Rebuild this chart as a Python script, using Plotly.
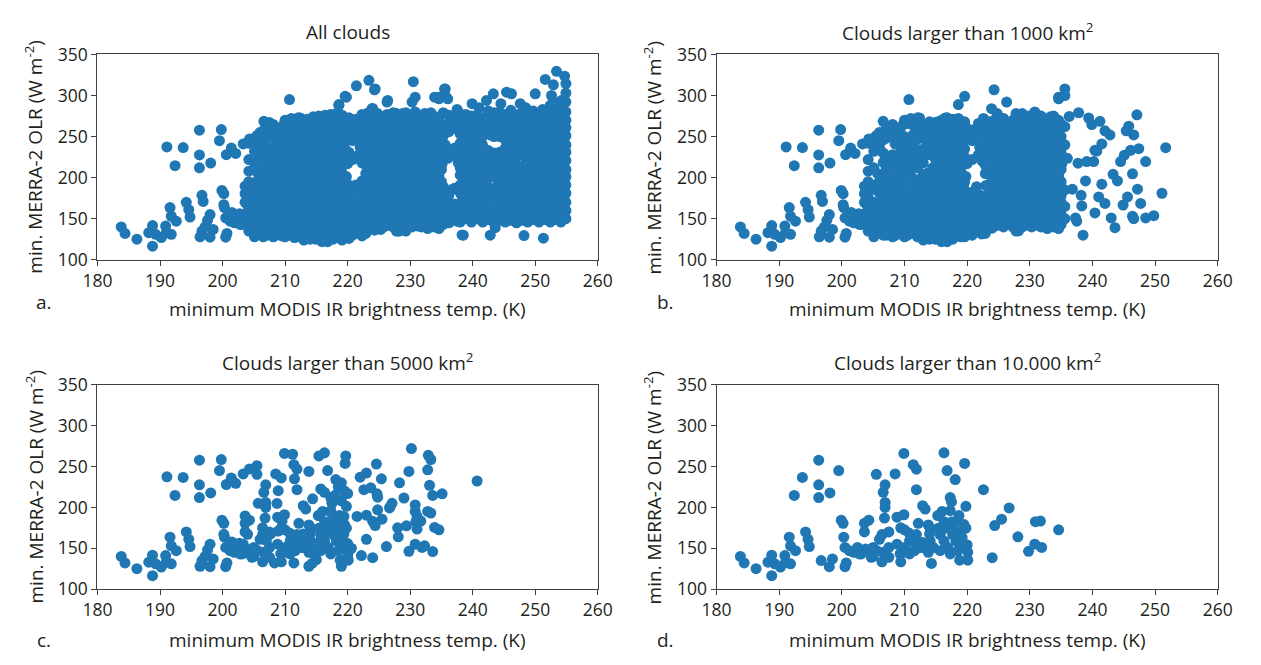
import plotly.graph_objects as go

FIG_W, FIG_H = 1261, 665
DOT = '#1f77b4'
TXT = '#231f20'
AX = '#404040'
FONT = 'Open Sans'
FS = 19
FS_TICK = 17.5

X_TICKS = [180, 190, 200, 210, 220, 230, 240, 250, 260]
Y_TICKS = [100, 150, 200, 250, 300, 350]
TITLES = ['All clouds',
          'Clouds larger than 1000 km<sup>2</sup>',
          'Clouds larger than 5000 km<sup>2</sup>',
          'Clouds larger than 10.000 km<sup>2</sup>']
LETTERS = ['a.', 'b.', 'c.', 'd.']
X_TITLE = 'minimum MODIS IR brightness temp. (K)'
Y_TITLE = 'min. MERRA-2 OLR (W m<sup>-2</sup>)'

# clouds larger than 10.000 km2 (panel d; also contained in c, b, a)
D_PTS = [
    (183.8, 140), (184.4, 132), (186.3, 125), (188.2, 133), (188.8, 141.6), (188.8, 116.5),
    (189.3, 131), (190.2, 127), (190.9, 141), (191, 133), (191.8, 131), (191.6, 163.6),
    (191.8, 153), (192.6, 147), (192.4, 214.6), (193.7, 236.6), (194.2, 170), (194.6, 161),
    (194.8, 152), (196.3, 257.8), (196.3, 227.6), (196.3, 212), (196.7, 135), (198.1, 217.7),
    (198, 127.5), (198.5, 137), (199.5, 245), (199.9, 184.4), (200.2, 180.5), (200.3, 163.6),
    (200.5, 151), (200.5, 127.5), (200.7, 132), (201.2, 147), (202.5, 151), (203.6, 180.5),
    (203.6, 170), (204.3, 184.4), (203.1, 143), (203.8, 149), (204.7, 139), (205, 151),
    (205.5, 240.5), (206, 161), (206.4, 166.7), (206.9, 227.6), (206.6, 218.5), (206.9, 206),
    (206.9, 200), (206.8, 187), (206.4, 133.4), (206.6, 145), (207.5, 170), (207.5, 151),
    (207.5, 139), (208.5, 241), (208.8, 155), (209.3, 143), (209.4, 133.4), (208.8, 188),
    (209.9, 191), (209.9, 266), (209.4, 175), (210, 172.6), (210.7, 168.7), (210.8, 159),
    (210.8, 143), (211.4, 252.3), (211.9, 246.8), (211.9, 221.7), (212.2, 180.5), (211.9, 166.7),
    (211.6, 157), (211.6, 147), (212.6, 151), (212.9, 202), (213.3, 198), (213.8, 178.5),
    (214, 167.5), (214.1, 174.6), (214.1, 159), (213.8, 145), (214.3, 131.4), (214.6, 151),
    (215.3, 190), (215.4, 174.6), (215.7, 166.7), (216.3, 266.8), (216, 195), (216.3, 182.5),
    (216.3, 159), (216.6, 151), (216.8, 245), (217.3, 212), (217.3, 196), (217.5, 206.7),
    (217.6, 178.5), (217.7, 166.7), (218.1, 234), (218.1, 182.5), (218.2, 159), (218.7, 190),
    (218.8, 170.6), (218.8, 135.4), (219.2, 163), (219.4, 151), (219.5, 179), (219.6, 253.8),
    (219.8, 201.3), (219.8, 174.6), (220, 154), (220.1, 145), (220.1, 135.4), (222.6, 221.7),
    (224, 138.5), (224.4, 177.7), (225.5, 185.6), (226.7, 199.3), (228.1, 164), (229.8, 146.3),
    (230.9, 182.5), (230.8, 155), (231.7, 183.3), (231.9, 151), (234.6, 172.6),
    (201.9, 145), (202.8, 143), (205, 140), (205.6, 147), (210, 151), (210.3, 145), (213, 151),
    (212.9, 157), (215.7, 147), (216.9, 151), (217.3, 143), (218.5, 147), (216.8, 174.6),
    (217.5, 182),
]

# additional clouds larger than 5000 km2 (panel c)
C_PTS = [
    (191.1, 237.4), (199.8, 258.5), (200.6, 228), (201.4, 236), (202.1, 229.5), (203.3, 241),
    (204.3, 247), (205.5, 251), (205.7, 205), (209.4, 236), (208.9, 220.5), (208.7, 204.8),
    (211.2, 265), (211.5, 235), (213.8, 244), (214.4, 210.5), (215.7, 222.5), (215.4, 263),
    (216.3, 218.5), (218.5, 225), (219, 230), (219.5, 220), (218, 215), (220, 217), (219, 208),
    (217.5, 205), (219.7, 263), (221.5, 189), (222, 237), (223, 242), (223, 190.5), (223, 161),
    (222.2, 141), (223.7, 224), (224.6, 253), (224, 183), (224.7, 216.6), (224.8, 212.5),
    (224.8, 197), (225.4, 235), (226.2, 152), (226.8, 201), (227.1, 205), (228, 175),
    (228.3, 230), (229, 211.5), (229.4, 177.5), (229.8, 244), (230.2, 272), (230.8, 203),
    (230.8, 195), (231.1, 189), (231.1, 173.5), (232.3, 153), (232.8, 195), (233.3, 193),
    (232.8, 246), (232.9, 263.7), (233.3, 258.6), (233.1, 227), (233.6, 214.6), (233.6, 146),
    (233.9, 175.5), (235.1, 216.6), (240.7, 232.3),
    (201.5, 157.6), (203.3, 155), (204, 144), (206.4, 175), (207, 159.6), (207.7, 167.5),
    (208.3, 132), (208.9, 171), (209.5, 183), (210.7, 151), (211.4, 132), (212.3, 159.6),
    (212.9, 167.5), (213.8, 128), (214.4, 144), (215, 136), (215.7, 159.6), (216.3, 167.5),
    (216.9, 175), (217.8, 167.5), (218.8, 159.6), (219, 128), (219.4, 167.5), (220, 155.7),
    (220.6, 150), (220, 140), (218.5, 183), (219.4, 189), (217.4, 193),
    (196.4, 128), (197.2, 140), (197.6, 148), (198, 155), (200.2, 167), (202.7, 156),
    (204, 167), (203.6, 189.5),
]

# additional clouds larger than 1000 km2 (panel b)
B_PTS = [
    (196.7, 178.5), (196.9, 171), (204.2, 207.8), (212.4, 272.6), (216.5, 272.6), (224.3, 307),
    (226.3, 292), (222.6, 272), (237.8, 279), (236.3, 274.5), (239.4, 272.6), (239.9, 264.7),
    (241.2, 268.6), (242, 257), (242.8, 252), (241.5, 241), (240.4, 233.3), (240.2, 219.6),
    (239.1, 219.6), (237.7, 217.6), (236, 223.5), (236.8, 186), (238.2, 178.5), (238.9, 196),
    (241.5, 192), (241, 176.5), (242, 168.6), (240.4, 157), (238.3, 165.5), (237.3, 151),
    (237.5, 147), (238.5, 130), (243, 151), (243.6, 139), (243.3, 204), (244, 196),
    (244.5, 219.6), (245.1, 227.4), (246.1, 233.3), (247.4, 235.3), (248.5, 219.6),
    (245.8, 262.7), (246.6, 252), (245.4, 257), (246.4, 204.7), (247.2, 186), (245.6, 176.5),
    (244.9, 166.7), (247.7, 168.6), (246.4, 153), (246.6, 150), (248.5, 151), (249.8, 153.7),
    (247.1, 276.5), (251.7, 236.5), (251.1, 181), (228.2, 135.3), (222.3, 131.4),
]
B_COLS = [
    (204.2, [135, 155, 162, 176, 195, 222, 242]),
    (205.1, [128, 158, 170, 186, 212, 232, 248]),
    (205.6, [142, 165, 192]),
    (206.0, [138, 152, 181, 195, 237, 255]),
    (206.6, [130, 150, 172, 190, 230, 246, 268.6]),
    (207.1, [130, 145, 162, 178, 192, 212, 248, 261]),
    (207.6, [137, 155, 172, 186, 205, 222, 256]),
    (208.1, [128, 140, 150, 165, 182, 198, 228, 255, 264.7]),
    (208.6, [130, 145, 158, 176, 192, 216, 250]),
    (209.0, [137, 147, 160, 196, 210, 225, 246, 259]),
    (209.5, [140, 152, 165, 180, 205, 230, 262]),
    (210.0, [128, 138, 155, 181, 201, 215, 232, 250, 270]),
    (210.5, [130, 146, 162, 176, 192, 208, 222, 242, 266]),
    (210.7, [295]),
    (211.0, [137, 148, 162, 176, 190, 208, 225, 242, 272]),
    (211.6, [133, 145, 157, 180, 198, 216, 238, 262]),
    (212.1, [128, 140, 171, 188, 212, 230, 258, 273]),
    (212.5, [135, 150, 165, 182, 196, 224, 248, 268]),
    (213.0, [124, 135, 145, 162, 176, 190, 218, 235, 252, 265]),
    (213.5, [130, 140, 152, 170, 184, 205, 228, 245, 260]),
    (214.0, [125, 138, 152, 165, 185, 200, 228, 240, 258, 268]),
    (214.5, [130, 145, 158, 176, 192, 212, 234, 250, 264]),
    (214.9, [125, 133, 142, 153, 163, 172, 182, 192, 203, 213, 223, 233, 243, 253, 262, 267]),
    (215.4, [128, 138, 148, 158, 168, 178, 188, 198, 208, 218, 228, 238, 248, 258, 268]),
    (215.9, [122, 130, 140, 150, 160, 170, 180, 190, 200, 210, 220, 230, 240, 250, 260, 270]),
    (216.3, [126, 136, 146, 156, 166, 176, 186, 196, 206, 216, 226, 236, 246, 256, 266]),
    (216.8, [122, 132, 142, 153, 163, 172, 185, 198, 216, 228, 240, 252, 262, 273]),
    (217.2, [128, 138, 148, 158, 168, 180, 192, 205, 222, 234, 246, 257, 268]),
    (217.7, [125, 135, 145, 155, 165, 175, 188, 200, 210, 221, 240, 250, 260, 271]),
    (218.1, [130, 140, 150, 160, 170, 181, 194, 206, 216, 230, 245, 255, 266]),
    (218.6, [130, 140, 150, 160, 172, 185, 198, 212, 225, 238, 248, 262, 272, 289]),
    (219.1, [134, 144, 155, 166, 178, 191, 205, 218, 232, 242, 253, 265]),
    (219.6, [128, 138, 148, 162, 170, 185, 195, 225, 235, 245, 258, 268, 299]),
    (220.3, [135, 147, 157, 167, 177, 248, 258]),
    (220.8, [130, 142, 152, 162, 172, 182, 222, 245, 258]),
    (221.3, [140, 152, 165, 175, 185, 255]),
    (221.8, [135, 148, 158, 170, 180, 228, 250, 266]),
    (222.4, [140, 162, 174, 220, 240, 258]),
    (222.9, [132, 145, 152, 168, 178, 205, 215, 232, 250, 262]),
    (223.4, [138, 150, 160, 173, 210, 222, 238, 256, 268]),
    (223.9, [145, 155, 165, 190, 200, 228, 245, 262, 284]),
    (224.3, [150, 160, 172, 185, 196, 235, 252, 270]),
    (224.8, [142, 150, 160, 170, 192, 208, 222, 240, 250, 278]),
    (225.3, [146, 155, 165, 175, 185, 200, 215, 230, 245, 258, 268]),
    (225.8, [140, 150, 160, 170, 180, 190, 210, 220, 240, 250, 262, 272]),
    (226.3, [145, 155, 165, 175, 185, 195, 205, 215, 225, 235, 245, 257, 267]),
    (226.8, [145, 155, 165, 175, 185, 195, 215, 225, 235, 245, 255, 265]),
    (227.3, [140, 150, 160, 170, 180, 190, 200, 210, 220, 230, 240, 250, 260, 270]),
    (227.8, [135, 148, 158, 170, 182, 192, 202, 212, 222, 238, 250, 262, 278]),
    (228.3, [145, 155, 165, 176, 188, 198, 208, 218, 230, 245, 257, 270]),
    (228.8, [140, 152, 162, 172, 185, 195, 205, 218, 240, 252, 265, 278]),
    (229.3, [146, 157, 167, 178, 190, 200, 212, 225, 235, 246, 258, 270]),
    (229.8, [142, 150, 160, 170, 190, 210, 220, 232, 255, 265, 275]),
    (230.3, [140, 152, 164, 175, 186, 198, 215, 226, 240, 250, 260, 270]),
    (230.8, [145, 165, 175, 210, 220, 235, 248, 258, 268, 280]),
    (231.3, [142, 152, 164, 178, 192, 205, 215, 228, 242, 253, 264, 276]),
    (231.8, [140, 160, 170, 202, 212, 222, 232, 240, 252, 262, 275]),
    (232.3, [144, 154, 163, 175, 186, 196, 208, 218, 228, 236, 246, 257, 268]),
    (232.8, [138, 148, 158, 168, 180, 205, 220, 235, 270]),
    (233.3, [144, 153, 163, 174, 186, 199, 212, 224, 238, 247, 262, 274]),
    (233.8, [140, 150, 160, 185, 205, 235, 240, 255, 268, 275]),
    (234.1, [145, 155, 165, 176, 190, 200, 212, 222, 232, 250, 262]),
    (234.6, [138, 148, 160, 182, 192, 202, 225, 235, 245, 258, 270, 296, 298]),
    (235.0, [143, 155, 170, 178, 195, 210, 220, 230, 250, 265]),
    (235.6, [150, 165, 185, 240, 262, 300, 308]),
]

# additional clouds of all sizes (panel a)
A_PTS = [
    (219.8, 298), (223.4, 318.5), (224.4, 308), (230.3, 292), (226.4, 294), (224, 284.3),
    (235.5, 308), (236, 296), (239.9, 290), (242.2, 294), (243.3, 302), (245.4, 304),
    (246.2, 302), (247.6, 290), (250, 302), (251.6, 319.6), (253.4, 329.4), (254.7, 323.5),
    (254.9, 314.5), (252.9, 313), (252.6, 300), (248.2, 129.4), (251.3, 126.3), (238.3, 130.2),
    (242.8, 130), (228.2, 135), (218.6, 288), (221.4, 311.8), (230.5, 316.8), (230.8, 298),
    (233.9, 298), (254.2, 294), (253.1, 288), (251.2, 283), (244.5, 290), (248.5, 285),
    (241, 285), (237.5, 283),
]
A_COLS = [
    (204.6, [141, 152, 171, 189]),
    (205.6, [134, 146, 164, 179, 196, 221]),
    (206.5, [128, 143, 157, 173, 186, 209, 226, 244, 257]),
    (207.5, [136, 154, 184, 201, 219, 236, 254, 267]),
    (208.5, [132, 146, 161, 173, 191, 211, 234, 249]),
    (209.5, [129, 141, 153, 167, 186, 204, 219, 239, 254]),
    (210.5, [134, 146, 163, 176, 193, 209, 223, 241, 261]),
    (211.5, [127, 141, 156, 171, 183, 199, 214, 231, 249, 267]),
    (212.5, [134, 147, 163, 179, 194, 206, 223, 239, 264]),
    (213.5, [131, 141, 156, 169, 184, 197, 211, 227, 246, 259, 271]),
    (214.5, [129, 144, 157, 171, 181, 196, 209, 221, 236, 249, 263, 274]),
    (215.4, [128, 147, 167, 188, 207, 228, 248, 275]),
    (216.4, [126, 146, 165, 186, 205, 224, 245, 264, 276]),
    (217.3, [129, 148, 168, 191, 208, 234, 256, 277]),
    (218.2, [131, 151, 171, 193, 214, 231, 255, 266, 278]),
    (219.1, [124, 145, 166, 191, 218, 243, 267, 276]),
    (220.2, [126, 143, 158, 178, 191, 231, 252, 262, 273]),
    (221.3, [137, 157, 177, 191, 252, 264, 271]),
    (222.3, [129, 142, 163, 188, 196, 218, 240, 257, 277]),
    (223.3, [139, 160, 187, 199, 222, 241, 256, 269, 279]),
    (224.3, [136, 151, 172, 182, 215, 235, 254, 270]),
    (225.3, [137, 156, 165, 185, 199, 215, 230, 259, 271]),
    (226.3, [142, 156, 175, 196, 205, 230, 246, 258, 277]),
    (227.3, [140, 151, 161, 180, 191, 205, 219, 231, 249, 261, 271, 279]),
    (228.3, [143, 153, 166, 176, 188, 198, 208, 228, 245, 257, 270]),
    (229.3, [135, 146, 157, 168, 180, 190, 201, 224, 236, 246, 259, 270, 279]),
    (230.3, [146, 155, 166, 175, 186, 200, 214, 227, 239, 248, 261, 271]),
    (231.3, [141, 151, 161, 170, 181, 190, 205, 216, 228, 241, 253, 263, 273]),
    (232.3, [145, 156, 166, 176, 185, 196, 207, 217, 227, 237, 247, 257, 268, 278]),
    (233.3, [142, 152, 163, 173, 185, 200, 210, 230, 241, 261, 279]),
    (234.3, [146, 156, 165, 176, 181, 190, 201, 211, 221, 231, 249, 262, 272]),
    (235.3, [143, 155, 166, 176, 189, 229, 251, 264, 279]),
    (236.2, [145, 157, 170, 179, 232, 256, 265, 276]),
    (237.1, [149, 159, 168, 187, 226, 236, 260, 271]),
    (238.0, [146, 156, 168, 182, 191, 203, 212, 222, 233, 242, 253, 263, 273]),
    (238.9, [150, 161, 171, 186, 206, 216, 228, 239, 249, 258, 268, 277]),
    (239.8, [146, 157, 167, 178, 188, 199, 209, 230, 244, 254, 266, 275]),
    (240.7, [150, 163, 173, 185, 197, 207, 216, 226, 246, 258, 276]),
    (241.6, [146, 157, 166, 182, 199, 208, 218, 229, 238, 251, 262, 273]),
    (242.5, [149, 160, 179, 189, 200, 212, 222, 233, 263, 272, 281]),
    (243.4, [145, 156, 166, 176, 186, 211, 220, 230, 250, 260, 270, 279]),
    (244.3, [148, 158, 170, 180, 189, 201, 210, 231, 250, 261, 271, 280]),
    (245.2, [146, 156, 165, 185, 195, 206, 215, 236, 246, 266, 277]),
    (246.1, [148, 160, 170, 181, 190, 199, 211, 221, 241, 260, 271, 282]),
    (247.0, [145, 155, 164, 175, 195, 205, 216, 226, 246, 256, 265, 276]),
    (247.9, [148, 158, 177, 189, 199, 209, 228, 239, 250, 259, 269, 279]),
    (248.8, [146, 156, 166, 176, 186, 196, 206, 216, 226, 236, 246, 256, 266, 276]),
    (249.7, [149, 160, 170, 181, 190, 200, 211, 221, 230, 240, 250, 261, 271, 281]),
    (250.6, [146, 155, 165, 176, 186, 195, 205, 216, 225, 236, 245, 256, 265, 276]),
    (251.5, [149, 159, 169, 179, 190, 201, 210, 221, 231, 241, 251, 260, 271, 281]),
    (252.4, [146, 156, 166, 175, 186, 195, 206, 215, 226, 236, 246, 255, 266, 276, 288]),
    (253.3, [149, 160, 170, 180, 190, 200, 211, 220, 230, 241, 250, 261, 270, 280, 291]),
    (254.1, [146, 156, 166, 176, 186, 196, 205, 216, 226, 235, 246, 256, 266, 276, 285]),
    (254.9, [150, 160, 170, 181, 191, 201, 210, 221, 231, 240, 251, 261, 270, 280, 292, 303]),
]


def expand(pts, cols=()):
    xs = [p[0] for p in pts]
    ys = [p[1] for p in pts]
    for x, yl in cols:
        for y in yl:
            xs.append(x)
            ys.append(y)
    return xs, ys


dx, dy = expand(D_PTS)
cx, cy = expand(C_PTS)
bx, by = expand(B_PTS, B_COLS)
ax_, ay_ = expand(A_PTS, A_COLS)

PANELS = [
    (dx + cx + bx + ax_, dy + cy + by + ay_),
    (dx + cx + bx, dy + cy + by),
    (dx + cx, dy + cy),
    (dx, dy),
]

# panel frames in pixels: (left, right, top, bottom)
FRAMES = [
    (84.5, 597.0, 43.0, 256.0),
    (718.7, 1232.0, 43.0, 256.0),
    (84.5, 597.0, 385.7, 597.7),
    (718.7, 1232.0, 385.7, 597.7),
]

fig = go.Figure()
layout = dict(
    width=FIG_W, height=FIG_H,
    margin=dict(l=0, r=0, t=0, b=0),
    paper_bgcolor='white', plot_bgcolor='white',
    showlegend=False,
    font=dict(family=FONT, size=FS, color=TXT),
)

annotations = []
for i, ((xs, ys), (l, r, t, b)) in enumerate(zip(PANELS, FRAMES)):
    n = '' if i == 0 else str(i + 1)
    fig.add_trace(go.Scatter(
        x=xs, y=ys, mode='markers',
        marker=dict(color=DOT, size=11, line=dict(width=0)),
        xaxis='x' + n, yaxis='y' + n, hoverinfo='skip'))
    common = dict(showline=True, linecolor=AX, linewidth=1.2, mirror=True,
                  ticks='outside', ticklen=5, tickwidth=1.1, tickcolor=AX,
                  showgrid=False, zeroline=False,
                  tickfont=dict(family=FONT, size=FS_TICK, color=TXT))
    layout['xaxis' + n] = dict(common, range=[180, 260], tickvals=X_TICKS,
                               domain=[l / FIG_W, r / FIG_W], anchor='y' + n)
    layout['yaxis' + n] = dict(common, range=[100, 350], tickvals=Y_TICKS,
                               domain=[1 - b / FIG_H, 1 - t / FIG_H], anchor='x' + n)
    row = i // 2
    col = i % 2
    cxp = (l + r) / 2
    title_y = 20 if row == 0 else 362
    xt_y = 307 if row == 0 else 650
    let_y = 300 if row == 0 else 650
    let_x = 30 if col == 0 else 666
    yt_x = 20 if col == 0 else 654
    annotations += [
        dict(text=TITLES[i], x=cxp / FIG_W, y=1 - title_y / FIG_H),
        dict(text=X_TITLE, x=cxp / FIG_W, y=1 - xt_y / FIG_H),
        dict(text=LETTERS[i], x=let_x / FIG_W, y=1 - let_y / FIG_H),
        dict(text=Y_TITLE, x=yt_x / FIG_W, y=1 - ((t + b) / 2) / FIG_H, textangle=-90),
    ]

for a in annotations:
    a.update(xref='paper', yref='paper', xanchor='center', yanchor='middle',
             showarrow=False, font=dict(family=FONT, size=FS, color=TXT))

layout['annotations'] = annotations
fig.update_layout(**layout)

# the page itself gets no margin so the figure sits at the window's origin
PAGE_FIX = ("document.documentElement.style.margin='0';document.body.style.margin='0';"
            "document.body.style.padding='0';document.body.style.overflow='hidden';"
            "document.documentElement.style.overflow='hidden';")
fig.write_html('out.html', post_script=PAGE_FIX, config={'displayModeBar': False})
